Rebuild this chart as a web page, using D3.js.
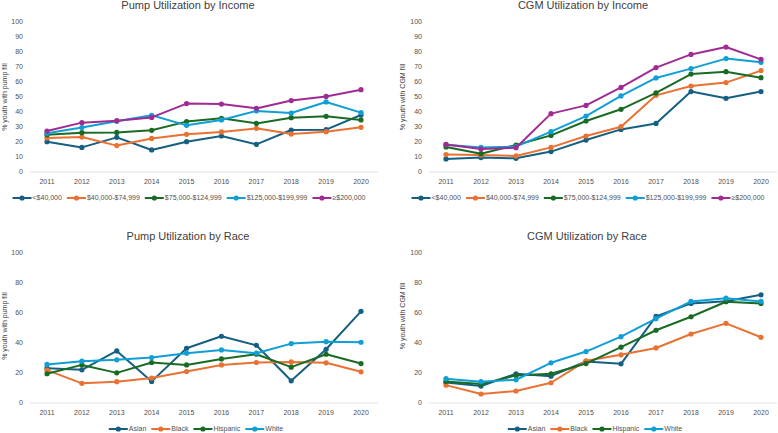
<!DOCTYPE html>
<html>
<head>
<meta charset="utf-8">
<script src="https://cdn.jsdelivr.net/npm/d3@7"></script>
<style>
  body { margin: 0; background: #fff; }
  svg { display: block; font-family: "Liberation Sans", Arial, sans-serif; }
</style>
</head>
<body>
<svg id="chart" width="778" height="433"></svg>
<script>
var years = [2011, 2012, 2013, 2014, 2015, 2016, 2017, 2018, 2019, 2020];

var incomeGroups = ["<$40,000", "$40,000-$74,999", "$75,000-$124,999", "$125,000-$199,999", "\u2265$200,000"];
var raceGroups = ["Asian", "Black", "Hispanic", "White"];

// pump by income
var pumpInc40 = [20.2, 16.4, 23.1, 14.7, 20.2, 24.0, 18.4, 28.0, 28.2, 38.0];
var pumpInc75 = [22.7, 23.3, 17.6, 22.4, 25.1, 26.7, 29.1, 25.3, 26.9, 29.8];
var pumpInc125 = [24.9, 26.2, 26.4, 27.8, 33.6, 35.8, 32.4, 36.2, 37.1, 34.7];
var pumpInc200 = [25.8, 29.6, 33.8, 37.8, 31.1, 34.7, 40.7, 39.3, 46.7, 39.6];
var pumpIncTop = [27.3, 32.9, 34.2, 36.4, 45.6, 45.3, 42.4, 47.6, 50.4, 54.9];

// cgm by income
var cgmInc40 = [8.7, 9.6, 9.1, 13.6, 21.3, 28.4, 32.4, 53.6, 49.1, 53.6];
var cgmInc75 = [11.6, 11.3, 10.7, 16.4, 24.0, 30.2, 51.1, 57.3, 59.6, 67.6];
var cgmInc125 = [16.7, 12.2, 18.0, 24.4, 34.0, 41.8, 52.7, 65.3, 66.9, 62.9];
var cgmInc200 = [18.2, 16.4, 16.9, 26.9, 37.3, 50.7, 62.7, 68.9, 75.6, 73.1];
var cgmIncTop = [18.4, 15.3, 16.2, 38.9, 44.4, 56.4, 69.6, 78.4, 83.3, 75.1];

// pump by race
var pumpAsian = [23.2, 22.1, 34.7, 14.4, 36.5, 44.5, 38.5, 14.8, 35.8, 61.1];
var pumpBlack = [21.9, 13.1, 14.2, 16.6, 21.0, 25.4, 27.0, 27.4, 26.8, 20.8];
var pumpHisp = [19.5, 25.4, 20.1, 27.0, 25.4, 29.4, 32.5, 23.9, 32.5, 26.3];
var pumpWhite = [25.7, 27.9, 28.8, 30.3, 33.2, 35.4, 33.2, 39.6, 40.9, 40.5];

// cgm by race
var cgmAsian = [13.7, 11.3, 19.5, 17.9, 27.7, 26.1, 57.7, 66.4, 67.9, 72.1];
var cgmBlack = [11.9, 6.0, 8.0, 13.5, 28.1, 32.1, 36.7, 46.0, 53.1, 43.8];
var cgmHisp = [14.4, 12.6, 18.4, 19.5, 26.3, 37.2, 48.5, 57.5, 67.5, 66.4];
var cgmWhite = [16.2, 14.2, 15.5, 26.8, 34.3, 44.2, 56.2, 67.7, 69.9, 67.7];

var incomeTicks = [0, 10, 20, 30, 40, 50, 60, 70, 80, 90, 100];
var raceTicks = [0, 20, 40, 60, 80, 100];

var incomeColors = ["#156082", "#E97132", "#196B24", "#0F9ED5", "#A02B93"];
var raceColors = ["#156082", "#E97132", "#196B24", "#0F9ED5"];

var svg = d3.select("#chart");

function drawPanel(opt) {
  var g = svg.append("g").attr("transform", "translate(" + opt.ox + "," + opt.oy + ")");

  var x = d3.scalePoint().domain(years).range([opt.x0, opt.x1]);
  var y = d3.scaleLinear().domain([0, 100]).range([opt.y0, opt.y1]);

  g.append("text")
    .attr("x", opt.titleX).attr("y", opt.titleY)
    .attr("text-anchor", "middle")
    .attr("font-size", 11).attr("fill", "#404040")
    .text(opt.title);

  // baseline
  g.append("line")
    .attr("x1", opt.axL).attr("x2", opt.axR)
    .attr("y1", y(0)).attr("y2", y(0))
    .attr("stroke", "#d9d9d9").attr("stroke-width", 0.8);

  g.selectAll(".ytick")
    .data(opt.ticks)
    .enter().append("text")
    .attr("x", opt.yLabX).attr("y", function (d) { return y(d); })
    .attr("dy", "0.35em")
    .attr("text-anchor", "end")
    .attr("font-size", 7).attr("fill", "#505050")
    .text(function (d) { return d; });

  g.selectAll(".xtick")
    .data(years)
    .enter().append("text")
    .attr("x", function (d) { return x(d); }).attr("y", y(0) + 10)
    .attr("dy", "0.35em")
    .attr("text-anchor", "middle")
    .attr("font-size", 7).attr("fill", "#505050")
    .text(function (d) { return d; });

  g.append("text")
    .attr("transform", "translate(" + opt.yTitleX + "," + opt.yTitleY + ") rotate(-90)")
    .attr("text-anchor", "middle")
    .attr("dy", "0.35em")
    .attr("font-size", 7).attr("fill", "#404040")
    .text(opt.yTitle);

  var line = d3.line()
    .x(function (d, i) { return x(years[i]); })
    .y(function (d) { return y(d); });

  opt.series.forEach(function (s, k) {
    g.append("path")
      .datum(s)
      .attr("fill", "none")
      .attr("stroke", opt.colors[k])
      .attr("stroke-width", 2)
      .attr("stroke-linejoin", "round")
      .attr("d", line);
    g.selectAll(".m" + k)
      .data(s)
      .enter().append("circle")
      .attr("cx", function (d, i) { return x(years[i]); })
      .attr("cy", function (d) { return y(d); })
      .attr("r", 2.6)
      .attr("fill", opt.colors[k]);
  });

  // legend
  var leg = g.append("g");
  var cx = 0;
  opt.names.forEach(function (n, k) {
    var it = leg.append("g").attr("transform", "translate(" + cx + ",0)");
    it.append("line").attr("x1", 0).attr("x2", 19).attr("y1", 0).attr("y2", 0)
      .attr("stroke", opt.colors[k]).attr("stroke-width", 2);
    it.append("circle").attr("cx", 9.5).attr("cy", 0).attr("r", 2.6).attr("fill", opt.colors[k]);
    var t = it.append("text").attr("x", 20).attr("y", 0).attr("dy", "0.35em")
      .attr("font-size", 7).attr("fill", "#505050").text(n);
    cx += 20 + t.node().getComputedTextLength() + 5;
  });
  var w = cx - 5;
  leg.attr("transform", "translate(" + (opt.legCX - w / 2) + "," + opt.legY + ")");
}

drawPanel({
  ox: 0, oy: 0, title: "Pump Utilization by Income", titleX: 188, titleY: 9,
  x0: 47, x1: 361, y0: 172, y1: 22, axL: 30, axR: 378, yLabX: 23,
  yTitle: "% youth with pump fill", yTitleX: 5, yTitleY: 97,
  ticks: incomeTicks, names: incomeGroups, colors: incomeColors,
  series: [pumpInc40, pumpInc75, pumpInc125, pumpInc200, pumpIncTop],
  legCX: 189, legY: 198
});

drawPanel({
  ox: 389, oy: 0, title: "CGM Utilization by Income", titleX: 194, titleY: 9,
  x0: 57, x1: 372, y0: 172, y1: 22, axL: 40, axR: 388, yLabX: 33,
  yTitle: "% youth with CGM fill", yTitleX: 14, yTitleY: 97,
  ticks: incomeTicks, names: incomeGroups, colors: incomeColors,
  series: [cgmInc40, cgmInc75, cgmInc125, cgmInc200, cgmIncTop],
  legCX: 199, legY: 198
});

drawPanel({
  ox: 0, oy: 216, title: "Pump Utilization by Race", titleX: 188, titleY: 24,
  x0: 47, x1: 361, y0: 187, y1: 37, axL: 30, axR: 378, yLabX: 23,
  yTitle: "% youth with pump fill", yTitleX: 5, yTitleY: 110,
  ticks: raceTicks, names: raceGroups, colors: raceColors,
  series: [pumpAsian, pumpBlack, pumpHisp, pumpWhite],
  legCX: 196, legY: 213
});

drawPanel({
  ox: 389, oy: 216, title: "CGM Utilization by Race", titleX: 198, titleY: 24,
  x0: 57, x1: 372, y0: 187, y1: 37, axL: 40, axR: 388, yLabX: 33,
  yTitle: "% youth with CGM fill", yTitleX: 14, yTitleY: 100,
  ticks: raceTicks, names: raceGroups, colors: raceColors,
  series: [cgmAsian, cgmBlack, cgmHisp, cgmWhite],
  legCX: 206, legY: 213
});
</script>
</body>
</html>
